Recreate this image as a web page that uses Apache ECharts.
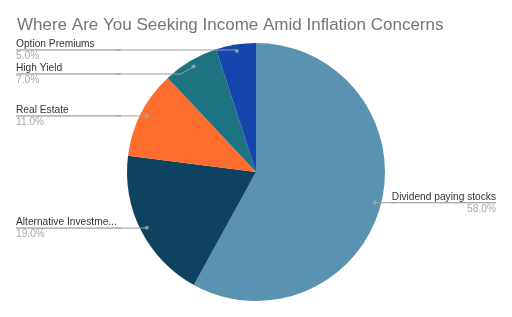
<!DOCTYPE html>
<html><head><meta charset="utf-8">
<script src="https://cdn.jsdelivr.net/npm/echarts@6/dist/echarts.min.js"></script>
<style>html,body{margin:0;padding:0;background:#fff}#c{width:512px;height:317px}</style>
</head><body><div id="c"></div>
<script>
var categories = ['Dividend paying stocks','Alternative Investments','Real Estate','High Yield','Option Premiums'];
var values = [58.0, 19.0, 11.0, 7.0, 5.0];
var colors = ['#5a93b1','#0d4261','#ff6d2e','#1e7383','#1446ae'];
var titleText = 'Where Are You Seeking Income Amid Inflation Concerns';

var total = values.reduce(function(a,b){return a+b;},0);
var cum = 0, dots = [];
values.forEach(function(v){ dots.push([0.95, cum + v/2]); cum += v; });

var chart = echarts.init(document.getElementById('c'));
var R = 129;
var F = 'Liberation Sans, Arial';
chart.setOption({
  animation:false,
  title:{text:titleText,left:12,top:12,textStyle:{fontFamily:F,fontSize:17,fontWeight:'normal',color:'#757575'}},
  polar:{center:[256,172],radius:R},
  angleAxis:{type:'value',min:0,max:total,startAngle:90,clockwise:true,show:false},
  radiusAxis:{type:'value',min:0,max:1,show:false},
  series:[
    {type:'pie',center:[256,172],radius:[0,R],startAngle:90,clockwise:true,silent:true,
     label:{show:false},labelLine:{show:false},
     itemStyle:{borderWidth:0},
     data:categories.map(function(n,i){return {name:n,value:values[i],itemStyle:{color:colors[i]}};})},
    {type:'pie',center:[256,172],radius:[0,R*0.95],startAngle:90,clockwise:true,silent:true,z:5,
     itemStyle:{color:'rgba(0,0,0,0)'},
     label:{show:true,position:'outer',alignTo:'edge',edgeDistance:16,width:105,overflow:'truncate',
       distanceToLabelLine:-5,fontFamily:F,
       formatter:function(p){return '{n|'+p.name+'}\n{hr|}\n{p|'+p.value.toFixed(1)+'%}';},
       rich:{
         n:{fontSize:10.2,color:'#333',lineHeight:12,fontFamily:F},
         hr:{width:'100%',height:0,borderWidth:0.8,borderColor:'#9e9e9e'},
         p:{fontSize:10.2,color:'#a8a8a8',lineHeight:12,fontFamily:F}
       }},
     labelLine:{show:true,length:1,length2:4,lineStyle:{color:'#9e9e9e',width:1}},
     data:categories.map(function(n,i){return {name:n,value:values[i]};})},
    {type:'scatter',coordinateSystem:'polar',symbolSize:4,z:6,silent:true,
     itemStyle:{color:'#a9a9a9'},data:dots}
  ]
});
</script></body></html>
